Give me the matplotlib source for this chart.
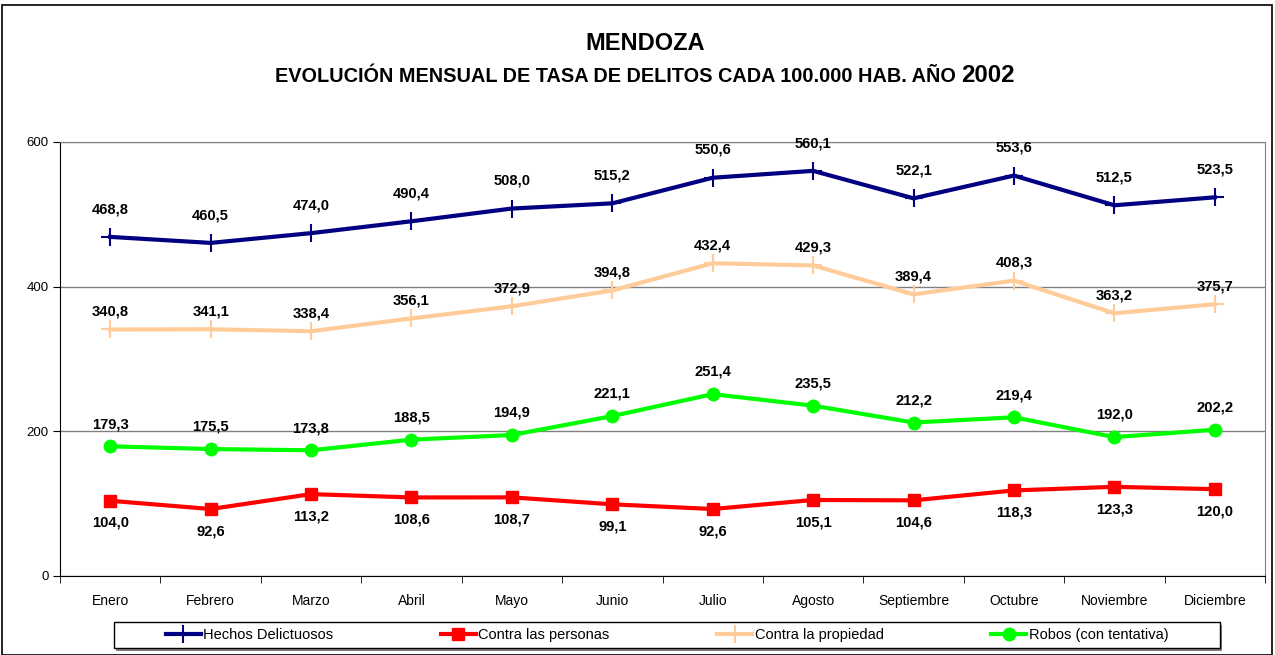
import matplotlib
matplotlib.use("Agg")
import matplotlib.pyplot as plt
from matplotlib.patches import Rectangle

plt.rcParams['font.family'] = ['Liberation Sans', 'DejaVu Sans']

meses = ["Enero", "Febrero", "Marzo", "Abril", "Mayo", "Junio", "Julio",
         "Agosto", "Septiembre", "Octubre", "Noviembre", "Diciembre"]
hechos = [468.8, 460.5, 474.0, 490.4, 508.0, 515.2, 550.6, 560.1, 522.1, 553.6, 512.5, 523.5]
personas = [104.0, 92.6, 113.2, 108.6, 108.7, 99.1, 92.6, 105.1, 104.6, 118.3, 123.3, 120.0]
propiedad = [340.8, 341.1, 338.4, 356.1, 372.9, 394.8, 432.4, 429.3, 389.4, 408.3, 363.2, 375.7]
robos = [179.3, 175.5, 173.8, 188.5, 194.9, 221.1, 251.4, 235.5, 212.2, 219.4, 192.0, 202.2]

W, H = 1275, 655
fig = plt.figure(figsize=(W / 100, H / 100), dpi=100)
ax = fig.add_axes([60 / W, 1 - 576 / H, 1205 / W, 434 / H])

x = list(range(len(meses)))

series = [
    (hechos, "Hechos Delictuosos", "#000080", dict(marker="+", markersize=13, markeredgewidth=1.5), 20),
    (personas, "Contra las personas", "#FF0000", dict(marker="s", markersize=9), -16),
    (propiedad, "Contra la propiedad", "#FFCC99", dict(marker="+", markersize=13, markeredgewidth=1.5), 13),
    (robos, "Robos (con tentativa)", "#00FF00", dict(marker="o", markersize=9), 16),
]

for vals, name, col, mk, off in series:
    ax.plot(x, vals, color=col, linewidth=3, label=name, **mk)
    for xi, v in zip(x, vals):
        lab = f"{v:.1f}".replace(".", ",")
        ax.annotate(lab, (xi, v), xytext=(0, off), textcoords="offset points",
                    ha="center", va="center", fontsize=10.6, fontweight="bold")

ax.set_xlim(-0.5, len(meses) - 0.5)
ax.set_ylim(0, 600)
ax.set_yticks([0, 200, 400, 600])
ax.set_xticks(x)
ax.set_xticklabels(meses, fontsize=10)
ax.set_xticks([i - 0.5 for i in range(len(meses) + 1)], minor=True)
ax.tick_params(axis="x", which="major", length=0, pad=13)
ax.tick_params(axis="x", which="minor", length=5, direction="out", color="black")
ax.tick_params(axis="y", length=5, direction="out", labelsize=9.5, pad=3)
ax.grid(axis="y", color="#808080", linewidth=1)
ax.set_axisbelow(True)
for s in ["top", "right"]:
    ax.spines[s].set_color("#808080")
for s in ["left", "bottom"]:
    ax.spines[s].set_color("black")

fig.text(645 / W, 1 - 44 / H, "MENDOZA", ha="center", va="center",
         fontsize=17, fontweight="bold")

# subtitle with larger year, centered as a whole
t1 = fig.text(0, 1 - 82 / H, "EVOLUCIÓN MENSUAL DE TASA DE DELITOS CADA 100.000 HAB. AÑO ",
              ha="left", va="baseline", fontsize=14.3, fontweight="bold")
t2 = fig.text(0, 1 - 82 / H, "2002", ha="left", va="baseline", fontsize=17.3, fontweight="bold")
fig.canvas.draw()
r = fig.canvas.get_renderer()
w1 = t1.get_window_extent(r).width
w2 = t2.get_window_extent(r).width
x0 = 645 - (w1 + w2) / 2
t1.set_x(x0 / W)
t2.set_x((x0 + w1) / W)

# legend box with shadow, drawn by hand
fig.patches.append(Rectangle((116 / W, 1 - 651 / H), 1106 / W, 26 / H, transform=fig.transFigure,
                             facecolor="#808080", edgecolor="none", zorder=1))
fig.patches.append(Rectangle((114 / W, 1 - 648 / H), 1106 / W, 26 / H, transform=fig.transFigure,
                             facecolor="white", edgecolor="black", linewidth=1, zorder=2))
leg = fig.legend(loc="center", bbox_to_anchor=(667 / W, 1 - 635 / H), ncol=4, frameon=False,
                 fontsize=10.5, handlelength=2.4, handletextpad=0.15, columnspacing=7.4,
                 borderpad=0, borderaxespad=0)
leg.set_zorder(3)

fig.patches.append(Rectangle((2 / W, 0), 1270 / W, 1 - 5 / H, transform=fig.transFigure,
                             fill=False, edgecolor="black", linewidth=1.2))

fig.savefig("out.png", dpi=100)
